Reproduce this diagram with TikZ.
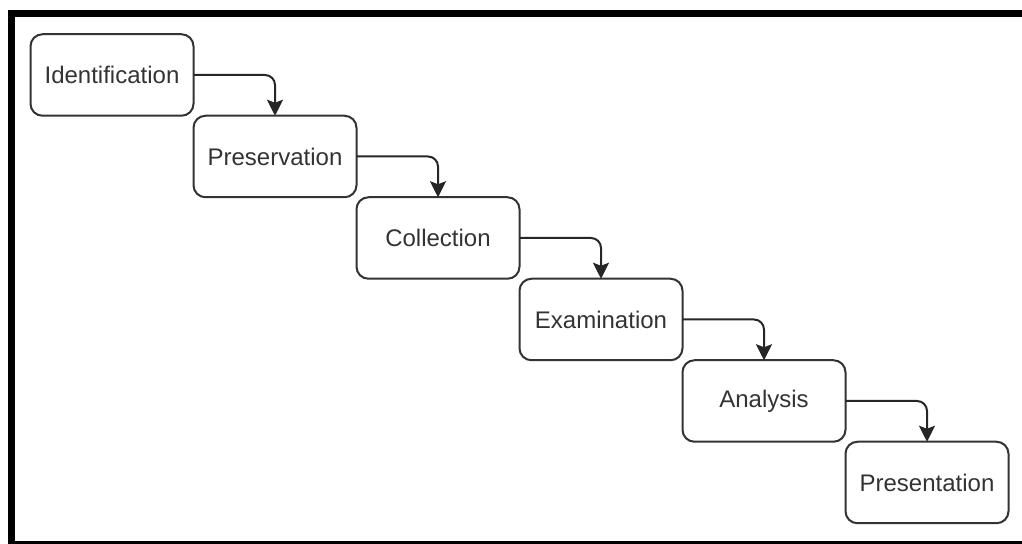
\documentclass[tikz,border=0pt]{standalone}
\usepackage{fontspec}
\setmainfont{Liberation Sans}
\usetikzlibrary{arrows.meta, positioning}

\begin{document}
\begin{tikzpicture}[
    x=0.5pt, y=-0.5pt,
    node distance=0pt,
    phase/.style={rectangle, draw=black!80, line width=1pt, rounded corners=6pt, minimum width=81.5pt, minimum height=40.75pt, inner sep=0pt, outer sep=0pt, align=center, text=black!80, font=\fontsize{12}{14}\selectfont},
    flow/.style={-{Stealth[length=8pt, width=8pt, inset=1.5pt]}, line width=1pt, rounded corners=5pt, black!85},
    frame/.style={line width=3.5pt, black}
]
\useasboundingbox (0,0) rectangle (1022,544);

% ============= FRAME =============
\draw[frame] (1022,544.5) -- (11.5,544.5) -- (11.5,13.5) -- (1022,13.5);

% ============= PHASES =============
\node[phase] (ident) at (112,75) {Identification};
\node[phase, below right=of ident] (pres) {Preservation};
\node[phase, below right=of pres] (coll) {Collection};
\node[phase, below right=of coll] (exam) {Examination};
\node[phase, below right=of exam] (anal) {Analysis};
\node[phase, below right=of anal] (prsn) {Presentation};

% Connectors
\foreach \a/\b in {ident/pres, pres/coll, coll/exam, exam/anal, anal/prsn} {
    \draw[flow] (\a.east) -| (\b.north);
}

\end{tikzpicture}
\end{document}
